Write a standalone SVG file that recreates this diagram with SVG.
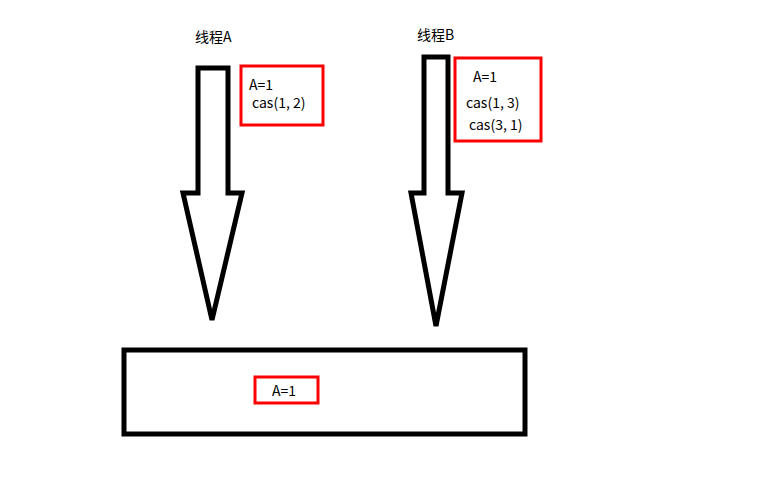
<svg xmlns="http://www.w3.org/2000/svg" width="774" height="480" viewBox="0 0 774 480">
<style>
.ar{fill:none;stroke:#000;stroke-width:5;stroke-linejoin:miter}
.rb{fill:none;stroke:#f00;stroke-width:3}
text{font-family:"Microsoft YaHei","Noto Sans CJK SC","Noto Sans",sans-serif;font-size:14px;fill:#000}
</style>
<rect width="774" height="480" fill="#fff"/>
<g id="labelA"><text x="195" y="42">线程A</text></g>
<g id="labelB"><text x="417" y="40">线程B</text></g>
<g id="connectors">
<path class="ar" d="M198,68 H228 V193 H242 L212,320 L183,193 H198 Z"/>
<path class="ar" d="M424,57 H448 V193 H462 L436,326 L411,193 H424 Z"/>
</g>
<g id="boxA"><rect class="rb" x="241" y="66" width="82" height="59"/>
<text x="249" y="90">A=1</text><text x="252" y="108">cas(1, 2)</text></g>
<g id="boxB"><rect class="rb" x="455" y="58" width="86" height="83"/>
<text x="473" y="82">A=1</text><text x="466" y="108">cas(1, 3)</text><text x="469" y="130">cas(3, 1)</text></g>
<g id="memory"><rect x="124" y="350" width="401" height="84" fill="none" stroke="#000" stroke-width="5"/>
<rect class="rb" x="255" y="377" width="63" height="26"/>
<text x="272" y="396">A=1</text></g>
</svg>
